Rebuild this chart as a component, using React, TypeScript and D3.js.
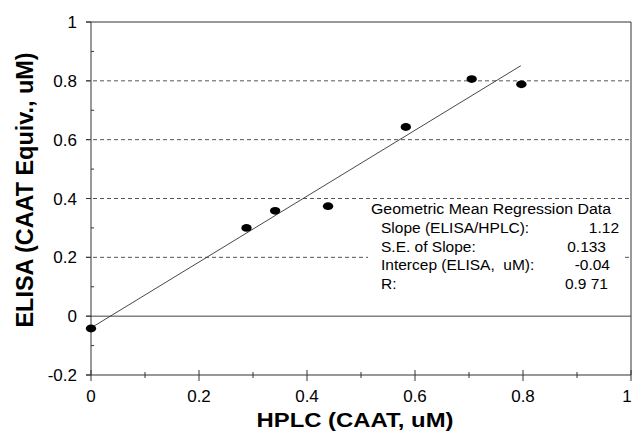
import React from 'react';
import { scaleLinear, range } from 'd3';

const width = 633;
const height = 431;
const margin = { top: 22, right: 2, bottom: 56, left: 91 };

// measured points (HPLC vs ELISA)
const hplc = [0, 0.288, 0.341, 0.439, 0.583, 0.705, 0.797];
const elisa = [-0.042, 0.3, 0.358, 0.374, 0.643, 0.806, 0.788];

// regression fit
const slope = 1.12;
const intercept = -0.04;
const fitRange = [0, 0.796];

const xTicks = [0, 0.2, 0.4, 0.6, 0.8, 1];
const xTickLabels = ['0', '0.2', '0.4', '0.6', '0.8', '1'];
const yTicks = [-0.2, 0, 0.2, 0.4, 0.6, 0.8, 1];
const yTickLabels = ['-0.2', '0', '0.2', '0.4', '0.6', '0.8', '1'];
const gridValues = [0.2, 0.4, 0.6, 0.8];

const legendTitle = 'Geometric Mean Regression Data';
const legendLabels = ['Slope (ELISA/HPLC):', 'S.E. of Slope:', 'Intercep (ELISA,\u00a0 uM):', 'R:'];
const legendValues = ['1.12', '0.133', '-0.04', '0.9 71'];
const legendValueRight = [619, 606, 610, 608];

const font = '"Liberation Sans", Arial, Helvetica, sans-serif';

export default function App() {
  const xScale = scaleLinear().domain([0, 1]).range([margin.left, width - margin.right]);
  const yScale = scaleLinear().domain([-0.2, 1]).range([height - margin.bottom, margin.top]);

  const x0 = xScale(0);
  const x1 = xScale(1);
  const yBottom = yScale(-0.2);
  const yTop = yScale(1);

  const minorX = range(0.1, 1, 0.2);
  const minorY = range(-0.1, 1, 0.2);

  return (
    <svg width={width} height={height} style={{ position: 'absolute', left: 0, top: 0, background: '#fff' }}>
      {/* dashed grid */}
      <g>
        {gridValues.map((v) => (
          <line key={v} x1={x0 - 5} x2={x1} y1={yScale(v)} y2={yScale(v)}
            stroke="#555" strokeWidth={1} strokeDasharray="4,3" />
        ))}
        <line x1={x0 - 5} x2={x1} y1={yScale(0)} y2={yScale(0)} stroke="#444" strokeWidth={1} />
      </g>

      {/* frame */}
      <g stroke="#333" strokeWidth={1} fill="none">
        <line x1={x0 - 5} x2={x1} y1={yTop} y2={yTop} />
        <line x1={x1} x2={x1} y1={yTop} y2={yBottom} />
        <line x1={x0} x2={x0} y1={yTop} y2={yBottom} />
        <line x1={x0 - 5} x2={x1} y1={yBottom} y2={yBottom} />
      </g>

      {/* ticks */}
      <g stroke="#333" strokeWidth={1}>
        {yTicks.map((v) => (
          <line key={'yt' + v} x1={x0 - 5} x2={x0} y1={yScale(v)} y2={yScale(v)} />
        ))}
        {minorY.map((v) => (
          <line key={'ym' + v} x1={x0} x2={x0 + 3} y1={yScale(v)} y2={yScale(v)} />
        ))}
        {xTicks.map((v) => (
          <line key={'xt' + v} x1={xScale(v)} x2={xScale(v)} y1={yBottom - 5} y2={yBottom + 6} />
        ))}
        {minorX.map((v) => (
          <line key={'xm' + v} x1={xScale(v)} x2={xScale(v)} y1={yBottom - 3} y2={yBottom + 3} />
        ))}
      </g>

      {/* tick labels */}
      <g fontFamily={font} fontSize={17} fill="#000">
        {yTicks.map((v, i) => (
          <text key={'yl' + v} x={x0 - 14} y={yScale(v)} dy="0.36em" textAnchor="end">{yTickLabels[i]}</text>
        ))}
        {xTicks.map((v, i) => (
          <text key={'xl' + v} x={Math.min(xScale(v), width - 6)} y={yBottom + 27} textAnchor="middle">{xTickLabels[i]}</text>
        ))}
      </g>

      {/* axis titles */}
      <text x={355} y={427} textAnchor="middle" fontFamily={font} fontWeight="bold" fontSize={20.5}
        textLength={197} lengthAdjust="spacingAndGlyphs">HPLC (CAAT, uM)</text>
      <text transform={`translate(33, 190) rotate(-90)`} textAnchor="middle" fontFamily={font}
        fontWeight="bold" fontSize={24} textLength={275} lengthAdjust="spacingAndGlyphs">
        ELISA (CAAT Equiv., uM)
      </text>

      {/* regression line */}
      <line x1={xScale(fitRange[0])} y1={yScale(intercept + slope * fitRange[0])}
        x2={xScale(fitRange[1])} y2={yScale(intercept + slope * fitRange[1])}
        stroke="#333" strokeWidth={0.9} />

      {/* points */}
      <g fill="#000">
        {hplc.map((h, i) => (
          <ellipse key={i} cx={xScale(h)} cy={yScale(elisa[i])} rx={5.2} ry={3.9} />
        ))}
      </g>

      {/* regression summary */}
      <rect x={368} y={200} width={255} height={94} fill="#fff" />
      <g fontFamily={font} fontSize={15.5} fill="#000">
        <text x={371} y={214} textLength={240} lengthAdjust="spacingAndGlyphs">{legendTitle}</text>
        {legendLabels.map((l, i) => (
          <text key={l} x={381} y={233 + i * 18.5}>{l}</text>
        ))}
        {legendValues.map((v, i) => (
          <text key={v} x={legendValueRight[i]} y={233 + i * 18.5} textAnchor="end">{v}</text>
        ))}
      </g>
    </svg>
  );
}
